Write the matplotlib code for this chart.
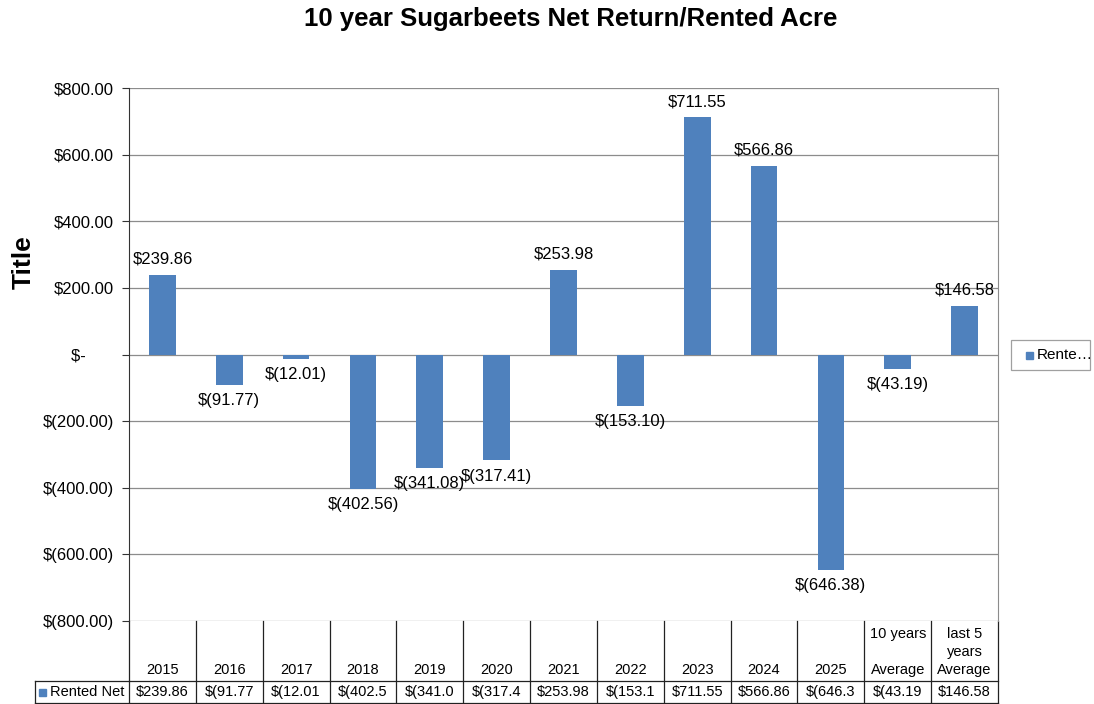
import matplotlib
matplotlib.use("Agg")
import matplotlib.pyplot as plt
from matplotlib.patches import Rectangle
from matplotlib.lines import Line2D

plt.rcParams['font.family'] = ['Liberation Sans', 'DejaVu Sans']

categories = ["2015", "2016", "2017", "2018", "2019", "2020", "2021", "2022",
              "2023", "2024", "2025", "10 years\n\nAverage", "last 5\nyears\nAverage"]
values = [239.86, -91.77, -12.01, -402.56, -341.08, -317.41, 253.98, -153.10,
          711.55, 566.86, -646.38, -43.19, 146.58]
series_name = "Rented Net"
yticks = [800, 600, 400, 200, 0, -200, -400, -600, -800]
title = "10 year Sugarbeets Net Return/Rented Acre"
ylabel = "Title"

BAR = "#4F81BD"
GRID = "#8C8C8C"


def fmt(v):
    if abs(v) < 1e-9:
        return "$-"
    if v < 0:
        return "$({:,.2f})".format(-v)
    return "${:,.2f}".format(v)


W, H = 1094, 704
fig = plt.figure(figsize=(W / 100, H / 100), dpi=100)
L, R, T, B = 129, 998, 88, 621
ax = fig.add_axes([L / W, 1 - B / H, (R - L) / W, (B - T) / H])

n = len(categories)
x = list(range(n))
ax.bar(x, values, width=0.4, color=BAR, zorder=3)
ax.set_xlim(-0.5, n - 0.5)
ax.set_ylim(-800, 800)
ax.set_yticks(yticks)
ax.set_yticklabels([fmt(v) if v != 0 else "$-      " for v in yticks], fontsize=12)
ax.set_xticks([])
for y in yticks:
    ax.axhline(y, color=GRID, lw=0.9, zorder=1)
for s in ["top", "bottom"]:
    ax.spines[s].set_visible(False)
ax.spines["left"].set_color("#333333")
ax.spines["right"].set_color(GRID)
ax.tick_params(axis="y", length=5, color="#333333", pad=6)

for xi, v in zip(x, values):
    if v >= 0:
        ax.annotate(fmt(v), (xi, v), xytext=(0, 6), textcoords="offset points",
                    ha="center", va="bottom", fontsize=12, zorder=5)
    else:
        ax.annotate(fmt(v), (xi, v), xytext=(0, -6), textcoords="offset points",
                    ha="center", va="top", fontsize=12, zorder=5)

# data table under the axis
trans = ax.get_xaxis_transform()
def fy(py):
    return (B - py) / (B - T)

y_top, y_mid, y_bot = fy(621), fy(681), fy(703)
lc = "#222222"
for i in range(n + 1):
    xb = i - 0.5
    ax.add_line(Line2D([xb, xb], [y_top, y_bot], transform=trans, color=lc,
                       lw=0.9, clip_on=False))
ax.add_line(Line2D([-0.5, n - 0.5], [y_mid, y_mid], transform=trans, color=lc,
                   lw=0.9, clip_on=False))
ax.add_line(Line2D([-0.5, n - 0.5], [y_bot, y_bot], transform=trans, color=lc,
                   lw=0.9, clip_on=False))
x_leg0 = (35 - L) / (R - L) * n - 0.5
ax.add_line(Line2D([x_leg0, -0.5], [y_mid, y_mid], transform=trans, color=lc,
                   lw=0.9, clip_on=False))
ax.add_line(Line2D([x_leg0, -0.5], [y_bot, y_bot], transform=trans, color=lc,
                   lw=0.9, clip_on=False))
ax.add_line(Line2D([x_leg0, x_leg0], [y_mid, y_bot], transform=trans, color=lc,
                   lw=0.9, clip_on=False))

for xi, cat in zip(x, categories):
    ax.text(xi, fy(677), cat, transform=trans, ha="center", va="bottom",
            fontsize=10.5, linespacing=1.35, clip_on=False)
    ax.text(xi, fy(692), fmt(values[xi])[:7], transform=trans, ha="center",
            va="center", fontsize=10.5, clip_on=False)

fig.text(50 / W, 1 - 692 / H, series_name, ha="left", va="center", fontsize=10.5)
fig.patches.append(Rectangle((39 / W, 1 - 696 / H), 7 / W, 7 / H,
                             transform=fig.transFigure, color=BAR))

fig.patches.append(Rectangle((1011 / W, 1 - 370 / H), 79 / W, 30 / H,
                             transform=fig.transFigure, facecolor="white",
                             edgecolor="#A0A0A0", lw=0.9))
fig.patches.append(Rectangle((1026 / W, 1 - 359 / H), 7 / W, 7 / H,
                             transform=fig.transFigure, color=BAR))
fig.text(1037 / W, 1 - 355 / H, "Rente\u2026", ha="left", va="center", fontsize=11)

fig.text(571 / W, 1 - 19 / H, title, ha="center", va="center", fontsize=18.5,
         fontweight="bold")
fig.text(24 / W, 1 - 262 / H, ylabel, ha="center", va="center", fontsize=19,
         fontweight="bold", rotation=90)

fig.savefig("out.png", dpi=100)
